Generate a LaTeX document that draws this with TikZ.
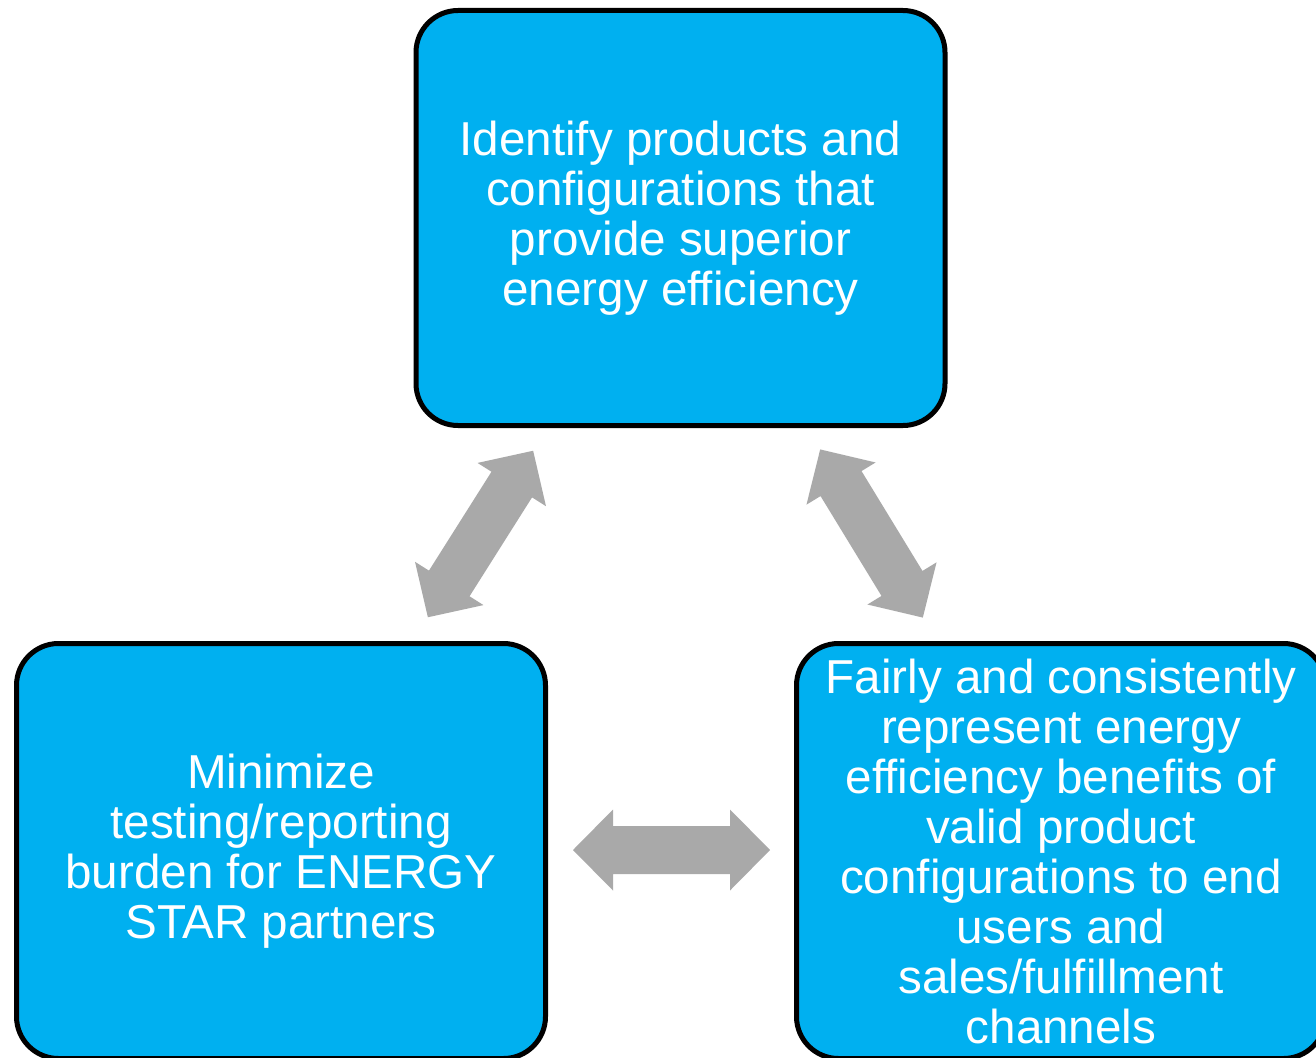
\documentclass[tikz,border=0pt]{standalone}
\usepackage{fontspec}
\setmainfont{Liberation Sans}
\definecolor{boxcyan}{HTML}{00B0F0}
\definecolor{arrowgray}{HTML}{A9A9A9}
\tikzset{
  goalbox/.style={draw=black, line width=5pt, fill=boxcyan, rounded corners=42pt,
    minimum width=529pt, minimum height=415pt, text=white, align=center,
    font=\fontsize{47.6}{50}\selectfont, inner sep=0pt},
  blockarrow/.style={fill=arrowgray}
}
\newcommand{\dblarrowshape}{(-98.5,0) -- (-58.5,40.5) -- (-58.5,24) -- (58.5,24) -- (58.5,40.5) -- (98.5,0) -- (58.5,-40.5) -- (58.5,-24) -- (-58.5,-24) -- (-58.5,-40.5) -- cycle}
\begin{document}
\begin{tikzpicture}[x=1pt, y=-1pt]
\useasboundingbox (0,0) rectangle (1316,1057);
\clip (0,0) rectangle (1316,1057);
\fill[white] (0,0) rectangle (1316,1057);

\node[goalbox] (top) at (680.5,218) {Identify products and\\configurations that\\provide superior\\energy efficiency};
\node[goalbox] (left) at (281,851) {Minimize\\testing/reporting\\burden for ENERGY\\STAR partners};
\node[goalbox] (right) at (1061,851) {Fairly and consistently\\represent energy\\efficiency benefits of\\valid product\\configurations to end\\users and\\sales/fulfillment\\channels};

\begin{scope}[shift={(480.5,534)}, rotate=57.7]
  \fill[blockarrow] \dblarrowshape;
\end{scope}
\begin{scope}[shift={(871.5,533.5)}, rotate=-58.6]
  \fill[blockarrow] \dblarrowshape;
\end{scope}
\begin{scope}[shift={(671.5,850)}]
  \fill[blockarrow] \dblarrowshape;
\end{scope}
\end{tikzpicture}
\end{document}
